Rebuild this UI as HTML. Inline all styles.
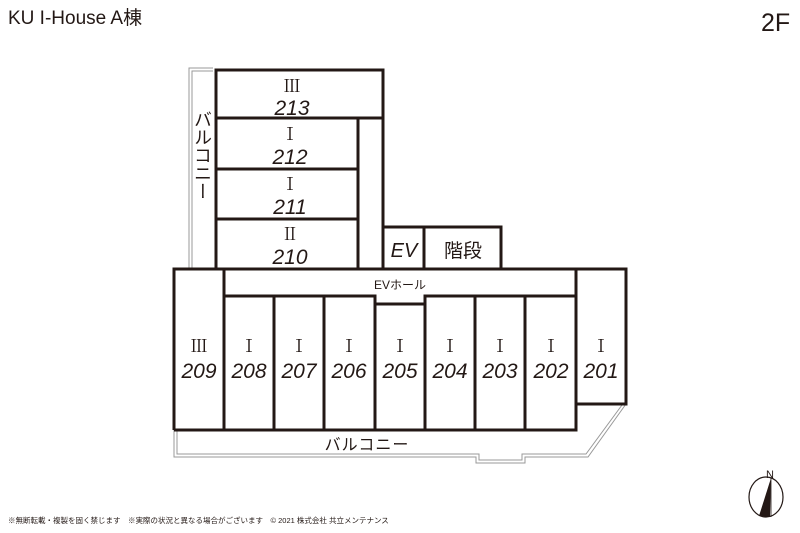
<!DOCTYPE html>
<html><head><meta charset="utf-8"><style>
html,body{margin:0;padding:0;background:#fff;}
svg{display:block;}
text{font-family:"Liberation Sans","Noto Sans CJK JP",sans-serif;fill:#231815;}
.n{font-style:italic;font-size:21px;text-anchor:middle;}
.r{font-family:"Liberation Serif","Noto Serif CJK SC",serif;font-size:17px;text-anchor:middle;}
</style></head><body>
<svg width="800" height="533" viewBox="0 0 800 533" xmlns="http://www.w3.org/2000/svg">
<text x="8" y="24" font-size="19" style="font-family:'Liberation Sans Narrow','Liberation Sans','Noto Sans CJK JP',sans-serif">KU I-House A棟</text>
<text x="761" y="31" font-size="25">2F</text>
<g fill="none" stroke="#999" stroke-width="1">
<polyline points="213,68 189,68 189,269"/>
<polyline points="213,71 192,71 192,269"/>
<polyline points="174,430 174,457 476,457 476,463 525,463 525,457 588,457 626,404"/>
<polyline points="177,430 177,454 479,454 479,460 522,460 522,454 586,454 622,405"/>
</g>
<g fill="none" stroke="#231815" stroke-width="3">
<rect x="216" y="70" width="167" height="48"/>
<rect x="216" y="118" width="142" height="51"/>
<rect x="216" y="169" width="142" height="50"/>
<rect x="216" y="219" width="142" height="50"/>
<line x1="383" y1="118" x2="383" y2="269"/>
<rect x="383" y="227" width="41" height="42"/>
<rect x="424" y="227" width="77" height="42"/>
<polyline points="174,430 174,269 626,269 626,404 576,404 576,430 174,430"/>
<line x1="224" y1="269" x2="224" y2="430"/>
<line x1="576" y1="269" x2="576" y2="404"/>
<polyline points="224,296 375,296 375,304 425,304 425,296 576,296"/>
<line x1="274" y1="296" x2="274" y2="430"/>
<line x1="324" y1="296" x2="324" y2="430"/>
<line x1="375" y1="296" x2="375" y2="430"/>
<line x1="425" y1="296" x2="425" y2="430"/>
<line x1="475" y1="296" x2="475" y2="430"/>
<line x1="525" y1="296" x2="525" y2="430"/>
</g>
<text class="r" x="292" y="92">Ⅲ</text><text class="n" x="292" y="115">213</text>
<text class="r" x="290" y="140">Ⅰ</text><text class="n" x="290" y="164">212</text>
<text class="r" x="290" y="190">Ⅰ</text><text class="n" x="290" y="214">211</text>
<text class="r" x="290" y="240">Ⅱ</text><text class="n" x="290" y="264">210</text>
<text class="n" x="404" y="257" style="font-size:20px">EV</text>
<text x="463" y="257" font-size="19" text-anchor="middle">階段</text>
<text x="400" y="289" font-size="12" text-anchor="middle">EVホール</text>
<g>
<text class="r" x="199" y="352">Ⅲ</text><text class="n" x="199" y="378">209</text>
<text class="r" x="249" y="352">Ⅰ</text><text class="n" x="249" y="378">208</text>
<text class="r" x="299" y="352">Ⅰ</text><text class="n" x="299" y="378">207</text>
<text class="r" x="349" y="352">Ⅰ</text><text class="n" x="349" y="378">206</text>
<text class="r" x="400" y="352">Ⅰ</text><text class="n" x="400" y="378">205</text>
<text class="r" x="450" y="352">Ⅰ</text><text class="n" x="450" y="378">204</text>
<text class="r" x="500" y="352">Ⅰ</text><text class="n" x="500" y="378">203</text>
<text class="r" x="551" y="352">Ⅰ</text><text class="n" x="551" y="378">202</text>
<text class="r" x="601" y="352">Ⅰ</text><text class="n" x="601" y="378">201</text>
</g>
<text x="367" y="450" font-size="16" text-anchor="middle" letter-spacing="1">バルコニー</text>
<text x="202" y="110" font-size="18" text-anchor="start" style="writing-mode:tb" writing-mode="tb">バルコニー</text>
<text x="8" y="523" font-size="7.5">※無断転載・複製を固く禁じます　※実際の状況と異なる場合がございます　© 2021 株式会社 共立メンテナンス</text>
<ellipse cx="766" cy="497" rx="17" ry="20" fill="none" stroke="#231815" stroke-width="1.2"/>
<polygon points="771,478 759,516 770,517" fill="#231815"/>
<line x1="771" y1="478" x2="771" y2="517" stroke="#231815" stroke-width="0.8"/>
<text x="770" y="478" font-size="11" text-anchor="middle">N</text>
</svg>
</body></html>
